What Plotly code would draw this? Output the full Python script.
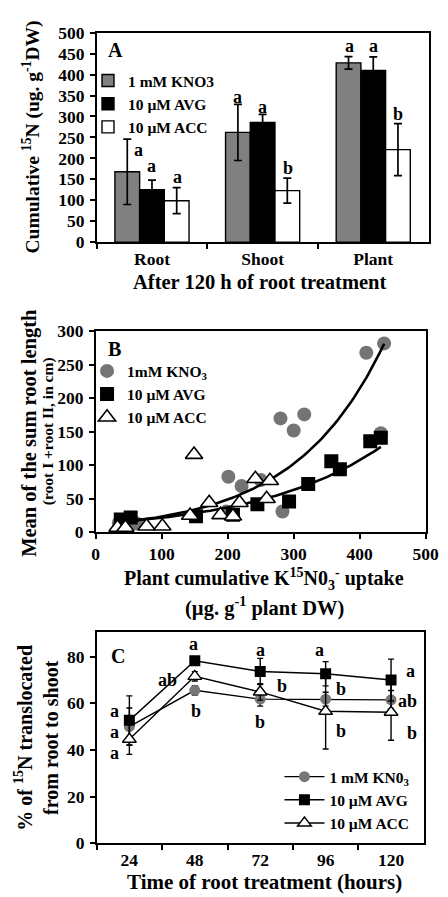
import numpy as np
import plotly.graph_objects as go

FONT = "Liberation Serif"
W, H = 448, 897

# ---------------- Panel A data ----------------
a_categories = ["Root", "Shoot", "Plant"]
a_kno3 = [168, 262, 428]
a_kno3_err = [78, 67, 15]
a_avg = [125, 286, 410]
a_avg_err = [23, 19, 32]
a_acc = [99, 123, 221]
a_acc_err = [31, 30, 62]
a_letters_kno3 = ["a", "a", "a"]
a_letters_avg = ["a", "a", "a"]
a_letters_acc = ["a", "b", "b"]

# ---------------- Panel B data ----------------
b_kno3_x = [437, 410, 280, 300, 316, 201, 221, 250, 283, 432, 198, 62, 48, 35]
b_kno3_y = [282, 268, 170, 152, 176, 83, 69, 78, 31, 148, 31, 13, 16, 14]
b_avg_x = [38, 53, 152, 208, 245, 293, 322, 357, 370, 416, 432]
b_avg_y = [19, 22, 24, 26, 42, 46, 72, 106, 94, 136, 141]
b_acc_x = [33, 45, 77, 101, 143, 149, 172, 189, 208, 218, 242, 259, 264]
b_acc_y = [7, 7, 9, 9, 25, 116, 44, 26, 24, 44, 80, 50, 77]

# ---------------- Panel C data ----------------
c_times = ["24", "48", "72", "96", "120"]
c_kno3 = [50, 65.6, 61.8, 61.8, 61.5]
c_kno3_err = [8, 2, 3, 3, 4]
c_avg = [52.7, 78.3, 73.7, 72.7, 70]
c_avg_err = [10.5, 1, 5.6, 5.2, 9]
c_acc = [44.6, 71.6, 64.9, 56.6, 56.2]
c_acc_err = [6.5, 2, 3.5, 16.2, 12]
c_letters = ["a", "a", "a", "ab", "a", "b", "a", "b", "b", "a", "b", "b", "a", "ab", "b"]

GRAY = "#808080"
fig = go.Figure()

# ---- Panel A bars ----
err_style = dict(type="data", visible=True, color="black", thickness=1.7, width=4)
for name, vals, errs, col in [
    ("1 mM KNO3", a_kno3, a_kno3_err, GRAY),
    ("10 \u00b5M AVG", a_avg, a_avg_err, "black"),
    ("10 \u00b5M ACC", a_acc, a_acc_err, "white"),
]:
    fig.add_trace(go.Bar(
        x=a_categories, y=vals, name=name,
        marker=dict(color=col, line=dict(color="black", width=1.4)),
        error_y=dict(array=errs, **err_style),
        xaxis="x", yaxis="y", legend="legend",
    ))

# ---- Panel B scatter ----
fig.add_trace(go.Scatter(
    x=b_kno3_x, y=b_kno3_y, mode="markers", name="1mM KNO<sub>3</sub>",
    marker=dict(symbol="circle", size=14, color="#747474"),
    xaxis="x2", yaxis="y2", legend="legend2"))
fig.add_trace(go.Scatter(
    x=b_avg_x, y=b_avg_y, mode="markers", name="10 \u00b5M AVG",
    marker=dict(symbol="square", size=14, color="black"),
    xaxis="x2", yaxis="y2", legend="legend2"))

# exponential trendlines fitted to the data (ln y linear in x)
for xs, ys in [(b_kno3_x, b_kno3_y), (b_avg_x, b_avg_y)]:
    xs_a = np.array(xs, float)
    ys_a = np.array(ys, float)
    slope, icpt = np.polyfit(xs_a, np.log(ys_a), 1)
    xx = np.linspace(xs_a.min(), xs_a.max(), 120)
    fig.add_trace(go.Scatter(
        x=xx, y=np.exp(icpt) * np.exp(slope * xx), mode="lines",
        line=dict(color="black", width=2.6), showlegend=False,
        hoverinfo="skip", xaxis="x2", yaxis="y2"))

fig.add_trace(go.Scatter(
    x=b_acc_x, y=b_acc_y, mode="markers", name="10 \u00b5M ACC",
    marker=dict(symbol="triangle-up", size=15, color="white",
                line=dict(color="black", width=1.6)),
    xaxis="x2", yaxis="y2", legend="legend2"))

# ---- Panel C lines ----
cerr = dict(type="data", visible=True, color="black", thickness=1.4, width=3)
fig.add_trace(go.Scatter(
    x=c_times, y=c_kno3, mode="lines+markers", name="1 mM KN0<sub>3</sub>",
    line=dict(color="black", width=1.4),
    marker=dict(symbol="circle", size=11, color="#777777"),
    error_y=dict(array=c_kno3_err, **cerr),
    xaxis="x3", yaxis="y3", legend="legend3"))
fig.add_trace(go.Scatter(
    x=c_times, y=c_avg, mode="lines+markers", name="10 \u00b5M AVG",
    line=dict(color="black", width=1.4),
    marker=dict(symbol="square", size=11, color="black"),
    error_y=dict(array=c_avg_err, **cerr),
    xaxis="x3", yaxis="y3", legend="legend3"))
fig.add_trace(go.Scatter(
    x=c_times, y=c_acc, mode="lines+markers", name="10 \u00b5M ACC",
    line=dict(color="black", width=1.4),
    marker=dict(symbol="triangle-up", size=12, color="white",
                line=dict(color="black", width=1.4)),
    error_y=dict(array=c_acc_err, **cerr),
    xaxis="x3", yaxis="y3", legend="legend3"))

# ---------------- axes ----------------
def px_x(p):
    return p / W

def px_y(p):
    return 1 - p / H

tickfont = dict(family=FONT, size=17.5, color="black", weight="bold")
axis_common = dict(showline=True, mirror=True, linecolor="black", linewidth=1.5,
                   ticks="outside", ticklen=5, tickwidth=1.5, tickcolor="black",
                   showgrid=False, zeroline=False, tickfont=tickfont)

annotations = []

def ann(text, x, y, size, xref="paper", yref="paper", angle=0, xanchor="center"):
    annotations.append(dict(text=text, x=x, y=y, xref=xref, yref=yref,
                            showarrow=False, textangle=angle, xanchor=xanchor,
                            yanchor="middle",
                            font=dict(family=FONT, size=size, color="black",
                                      weight="bold")))

# Panel A letters
a_let_y = [[220, 181, 156], [347, 323, 176], [469, 469, 306]]
a_let_dx = [[-0.122, 0.0, 0.23], [-0.224, 0.0, 0.23], [-0.217, 0.0, 0.223]]
for ci in range(3):
    letters = [a_letters_kno3[ci], a_letters_avg[ci], a_letters_acc[ci]]
    for si in range(3):
        ann(letters[si], ci + a_let_dx[ci][si], a_let_y[ci][si], 18, xref="x", yref="y")

# Panel C letters (positions)
c_let_pos = [(-0.22, 56.9), (-0.22, 47.8), (-0.22, 38.7), (0.585, 69.9),
             (0.975, 85.3), (1.015, 56.6), (2.0, 83.1), (2.33, 67.4), (2.0, 52.0),
             (2.91, 82.8), (3.23, 66.3), (3.23, 48.1), (4.29, 73.7), (4.25, 61.1),
             (4.32, 47.1)]
for t, (xx, yy) in zip(c_letters, c_let_pos):
    ann(t, xx, yy, 18, xref="x3", yref="y3")

# panel labels
ann("A", px_x(108), px_y(33), 20)
ann("B", px_x(107), px_y(339), 20)
ann("C", px_x(110), px_y(653), 20)

# axis titles
ann("Cumulative <sup>15</sup>N (ug. g<sup>-1</sup>DW)", px_x(20), px_y(122), 19.5, angle=-90)
ann("After 120 h of root treatment", px_x(258), px_y(270), 20.5)
ann("Mean of the sum root length", px_x(18), px_y(424), 20.5, angle=-90)
ann("(root I +root II, in cm)", px_x(37), px_y(423), 15.5, angle=-90)
ann("Plant cumulative K<sup>15</sup>N0<sub>3</sub><sup>-</sup> uptake", px_x(262), px_y(574), 20)
ann("(\u00b5g. g<sup>-1</sup> plant DW)", px_x(262), px_y(602), 20.5)
ann("% of <sup>15</sup>N translocated<br>from root to shoot", px_x(25), px_y(736), 20, angle=-90)
ann("Time of root treatment (hours)", px_x(262), px_y(884), 21)

legend_font = dict(family=FONT, size=15.5, color="black", weight="bold")

fig.update_layout(
    width=W, height=H, autosize=False,
    margin=dict(l=0, r=0, t=0, b=0),
    paper_bgcolor="white", plot_bgcolor="white",
    font=dict(family=FONT, color="black", weight="bold"),
    barmode="group", bargap=0.33, bargroupgap=0,
    xaxis=dict(domain=[px_x(88), px_x(433)], anchor="y", type="category",
               tickson="boundaries", **axis_common),
    yaxis=dict(domain=[px_y(229.3), px_y(15)], anchor="x", range=[0, 500],
               dtick=50, ticklabelstandoff=2, **axis_common),
    xaxis2=dict(domain=[px_x(87), px_x(430)], anchor="y2", range=[0, 500],
                dtick=100, **axis_common),
    yaxis2=dict(domain=[px_y(526), px_y(320.5)], anchor="x2", range=[0, 300],
                dtick=50, ticklabelstandoff=2, **axis_common),
    xaxis3=dict(domain=[px_x(88), px_x(428)], anchor="y3", type="category",
                tickson="boundaries", range=[-0.5, 4.5], **axis_common),
    yaxis3=dict(domain=[px_y(844), px_y(628.3)], anchor="x3", range=[0, 90.5],
                tickvals=[0, 20, 40, 60, 80], ticklabelstandoff=2, **axis_common),
    legend=dict(x=px_x(79), y=px_y(47), xanchor="left", yanchor="top",
                font=legend_font, bgcolor="rgba(0,0,0,0)", traceorder="normal"),
    legend2=dict(x=px_x(78), y=px_y(344), xanchor="left", yanchor="top",
                 font=legend_font, bgcolor="rgba(0,0,0,0)", traceorder="normal"),
    legend3=dict(x=px_x(278), y=px_y(759), xanchor="left", yanchor="top",
                 font=legend_font, bgcolor="rgba(0,0,0,0)", traceorder="normal",
                 itemwidth=40),
    annotations=annotations,
    showlegend=True,
)

fig.write_html("out.html")
